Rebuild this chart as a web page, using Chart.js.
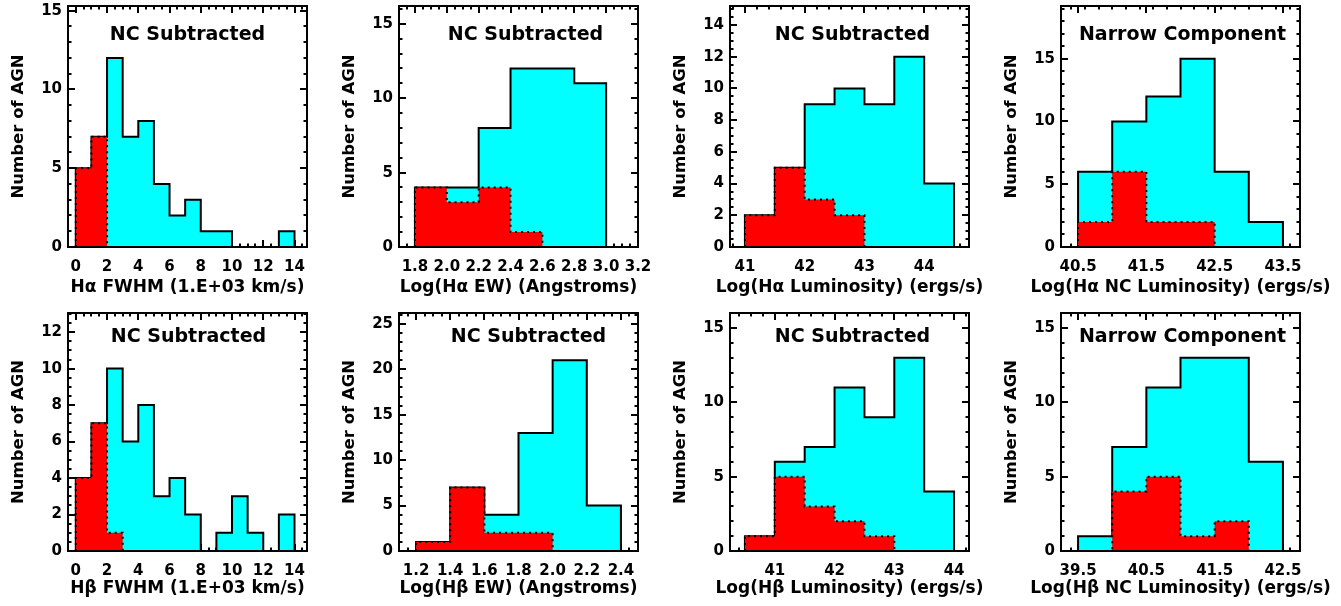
<!DOCTYPE html>
<html>
<head>
<meta charset="utf-8">
<script src="https://cdn.jsdelivr.net/npm/chart.js@4.4.1/dist/chart.umd.min.js"></script>
<style>
  html, body { margin: 0; padding: 0; background: #fff; overflow: hidden; }
  #wrap { position: relative; width: 1341px; height: 606px; }
  .panel { position: absolute; width: 348px; height: 307px; }
  .panel canvas { display: block; }
</style>
</head>
<body>
<div id="wrap"></div>
<script>
// histogram bins: edges, counts for all AGN (cyan) and the red subset
const haFwhmEdges = [0, 1, 2, 3, 4, 5, 6, 7, 8, 9, 10, 11, 12, 13, 14];
const haFwhmAll = [5, 7, 12, 7, 8, 4, 2, 3, 1, 1, 0, 0, 0, 1];
const haFwhmRed = [5, 7, 0, 0, 0, 0, 0, 0, 0, 0, 0, 0, 0, 0];

const haEwEdges = [1.8, 2.0, 2.2, 2.4, 2.6, 2.8, 3.0];
const haEwAll = [4, 4, 8, 12, 12, 11];
const haEwRed = [4, 3, 4, 1, 0, 0];

const haLumEdges = [41, 41.5, 42, 42.5, 43, 43.5, 44, 44.5];
const haLumAll = [2, 5, 9, 10, 9, 12, 4];
const haLumRed = [2, 5, 3, 2, 0, 0, 0];

const haNcEdges = [40.5, 41, 41.5, 42, 42.5, 43, 43.5];
const haNcAll = [6, 10, 12, 15, 6, 2];
const haNcRed = [2, 6, 2, 2, 0, 0];

const hbFwhmEdges = [0, 1, 2, 3, 4, 5, 6, 7, 8, 9, 10, 11, 12, 13, 14];
const hbFwhmAll = [4, 7, 10, 6, 8, 3, 4, 2, 0, 1, 3, 1, 0, 2];
const hbFwhmRed = [4, 7, 1, 0, 0, 0, 0, 0, 0, 0, 0, 0, 0, 0];

const hbEwEdges = [1.2, 1.4, 1.6, 1.8, 2.0, 2.2, 2.4];
const hbEwAll = [1, 7, 4, 13, 21, 5];
const hbEwRed = [1, 7, 2, 2, 0, 0];

const hbLumEdges = [40.5, 41, 41.5, 42, 42.5, 43, 43.5, 44];
const hbLumAll = [1, 6, 7, 11, 9, 13, 4];
const hbLumRed = [1, 5, 3, 2, 1, 0, 0];

const hbNcEdges = [39.5, 40, 40.5, 41, 41.5, 42, 42.5];
const hbNcAll = [1, 7, 11, 13, 13, 6];
const hbNcRed = [0, 4, 5, 1, 2, 0];

// tick labels
const fwhmXTicks = ['0', '2', '4', '6', '8', '10', '12', '14'];
const haEwXTicks = ['1.8', '2.0', '2.2', '2.4', '2.6', '2.8', '3.0', '3.2'];
const hbEwXTicks = ['1.2', '1.4', '1.6', '1.8', '2.0', '2.2', '2.4'];
const lumXTicks = ['41', '42', '43', '44'];
const haNcXTicks = ['40.5', '41.5', '42.5', '43.5'];
const hbNcXTicks = ['39.5', '40.5', '41.5', '42.5'];
const yTicks15 = ['0', '5', '10', '15'];
const yTicks25 = ['0', '5', '10', '15', '20', '25'];
const yTicks14 = ['0', '2', '4', '6', '8', '10', '12', '14'];
const yTicks12 = ['0', '2', '4', '6', '8', '10', '12'];

const panels = [
  { edges: haFwhmEdges, all: haFwhmAll, red: haFwhmRed, xTicks: fwhmXTicks, yTicks: yTicks15,
    xMin: -0.5, xMax: 14.8, yMax: 15.3, xMinor: 0.5, yMinor: 1,
    title: 'NC Subtracted', xTitle: 'H\u03b1 FWHM (1.E+03 km/s)', shift: 0 },
  { edges: haEwEdges, all: haEwAll, red: haEwRed, xTicks: haEwXTicks, yTicks: yTicks15,
    xMin: 1.7, xMax: 3.2, yMax: 16.2, xMinor: 0.05, yMinor: 1,
    title: 'NC Subtracted', xTitle: 'Log(H\u03b1 EW) (Angstroms)', shift: 7 },
  { edges: haLumEdges, all: haLumAll, red: haLumRed, xTicks: lumXTicks, yTicks: yTicks14,
    xMin: 40.75, xMax: 44.75, yMax: 15.2, xMinor: 0.2, yMinor: 0.5,
    title: 'NC Subtracted', xTitle: 'Log(H\u03b1 Luminosity) (ergs/s)', shift: 3 },
  { edges: haNcEdges, all: haNcAll, red: haNcRed, xTicks: haNcXTicks, yTicks: yTicks15,
    xMin: 40.25, xMax: 43.75, yMax: 19.2, xMinor: 0.2, yMinor: 1,
    title: 'Narrow Component', xTitle: 'Log(H\u03b1 NC Luminosity) (ergs/s)', shift: 2 },
  { edges: hbFwhmEdges, all: hbFwhmAll, red: hbFwhmRed, xTicks: fwhmXTicks, yTicks: yTicks12,
    xMin: -0.5, xMax: 14.8, yMax: 13.05, xMinor: 0.5, yMinor: 0.5,
    title: 'NC Subtracted', xTitle: 'H\u03b2 FWHM (1.E+03 km/s)', shift: 1 },
  { edges: hbEwEdges, all: hbEwAll, red: hbEwRed, xTicks: hbEwXTicks, yTicks: yTicks25,
    xMin: 1.1, xMax: 2.5, yMax: 26.2, xMinor: 0.05, yMinor: 1,
    title: 'NC Subtracted', xTitle: 'Log(H\u03b2 EW) (Angstroms)', shift: 10 },
  { edges: hbLumEdges, all: hbLumAll, red: hbLumRed, xTicks: lumXTicks, yTicks: yTicks15,
    xMin: 40.25, xMax: 44.25, yMax: 16, xMinor: 0.2, yMinor: 1,
    title: 'NC Subtracted', xTitle: 'Log(H\u03b2 Luminosity) (ergs/s)', shift: 3 },
  { edges: hbNcEdges, all: hbNcAll, red: hbNcRed, xTicks: hbNcXTicks, yTicks: yTicks15,
    xMin: 39.25, xMax: 42.75, yMax: 16, xMinor: 0.2, yMinor: 1,
    title: 'Narrow Component', xTitle: 'Log(H\u03b2 NC Luminosity) (ergs/s)', shift: 2 }
];

// per-row placement inside each 348x307 canvas
const rows = [
  { top: 0, boxBottom: 247, titleDy: 34, xTitleY: 288 },
  { top: 307, boxBottom: 244, titleDy: 28.5, xTitleY: 282 }
];
const CW = 348, CH = 307;

const FONT = '"DejaVu Sans", sans-serif';
Chart.defaults.color = '#000';
Chart.defaults.font.family = FONT;

// outline of a histogram as a closed step path
function stepPoints(edges, counts) {
  const pts = [{ x: edges[0], y: 0 }];
  counts.forEach((c, i) => {
    pts.push({ x: edges[i], y: c });
    pts.push({ x: edges[i + 1], y: c });
  });
  pts.push({ x: edges[edges.length - 1], y: 0 });
  return pts;
}

function minorValues(min, max, step, majors) {
  const out = [];
  const k0 = Math.ceil(min / step - 1e-6), k1 = Math.floor(max / step + 1e-6);
  for (let k = k0; k <= k1; k++) {
    const v = k * step;
    if (!majors.some(m => Math.abs(m - v) < step / 10)) out.push(v);
  }
  return out;
}

// IDL style frame: inward ticks on all four sides, box, titles
const idlFrame = {
  id: 'idlFrame',
  beforeDraw(chart, args, o) {
    const ctx = chart.ctx, a = chart.chartArea;
    const xs = chart.scales.x, ys = chart.scales.y;
    const xMaj = o.xTicks.map(Number), yMaj = o.yTicks.map(Number);
    const xMin = minorValues(xs.min, xs.max, o.xMinor, xMaj);
    const yMin = minorValues(ys.min, ys.max, o.yMinor, yMaj);
    ctx.save();
    ctx.strokeStyle = '#000';
    ctx.lineWidth = 2;
    ctx.beginPath();
    const tx = (vals, len) => vals.forEach(v => {
      const p = Math.round(xs.getPixelForValue(v));
      ctx.moveTo(p, a.bottom); ctx.lineTo(p, a.bottom - len);
      ctx.moveTo(p, a.top); ctx.lineTo(p, a.top + len);
    });
    const ty = (vals, len) => vals.forEach(v => {
      const p = Math.round(ys.getPixelForValue(v));
      ctx.moveTo(a.left, p); ctx.lineTo(a.left + len, p);
      ctx.moveTo(a.right, p); ctx.lineTo(a.right - len, p);
    });
    tx(xMaj, 7); tx(xMin, 3.5);
    ty(yMaj, 7); ty(yMin, 3.5);
    ctx.stroke();
    ctx.restore();
  },
  afterDraw(chart, args, o) {
    const ctx = chart.ctx, a = chart.chartArea;
    const cx = (a.left + a.right) / 2, cy = (a.top + a.bottom) / 2;
    ctx.save();
    ctx.strokeStyle = '#000';
    ctx.lineWidth = 2;
    ctx.strokeRect(a.left, a.top, a.right - a.left, a.bottom - a.top);
    ctx.fillStyle = '#000';
    ctx.textAlign = 'center';
    ctx.textBaseline = 'alphabetic';
    ctx.font = 'bold 19px ' + FONT;
    ctx.fillText(o.title, cx + o.shift, a.top + o.titleDy);
    ctx.textBaseline = 'middle';
    ctx.font = 'bold 17px ' + FONT;
    ctx.fillText(o.xTitle, cx, o.xTitleY);
    ctx.translate(19, cy);
    ctx.rotate(-Math.PI / 2);
    ctx.font = 'bold 16.5px ' + FONT;
    ctx.fillText('Number of AGN', 0, 0);
    ctx.restore();
  }
};

const wrap = document.getElementById('wrap');
panels.forEach((p, i) => {
  const row = rows[Math.floor(i / 4)];
  const col = i % 4;
  const div = document.createElement('div');
  div.className = 'panel';
  div.style.left = (col * 331) + 'px';
  div.style.top = row.top + 'px';
  const canvas = document.createElement('canvas');
  canvas.width = CW;
  canvas.height = CH;
  div.appendChild(canvas);
  wrap.appendChild(div);

  const tickFont = { family: FONT, size: 15, weight: 'bold' };
  // the red subset is dataset 0 so it is drawn last, over the cyan outline
  new Chart(canvas, {
    type: 'line',
    data: {
      datasets: [
        { data: stepPoints(p.edges, p.red), borderColor: '#000', borderWidth: 2, borderDash: [2, 4],
          backgroundColor: '#ff0000', fill: 'origin', pointRadius: 0, tension: 0 },
        { data: stepPoints(p.edges, p.all), borderColor: '#000', borderWidth: 2,
          backgroundColor: '#00ffff', fill: 'origin', pointRadius: 0, tension: 0 }
      ]
    },
    options: {
      responsive: false,
      animation: false,
      devicePixelRatio: 1,
      layout: { padding: { top: 6, right: CW - 307, left: 0, bottom: 0 } },
      plugins: {
        legend: { display: false },
        tooltip: { enabled: false },
        idlFrame: {
          title: p.title, xTitle: p.xTitle, shift: p.shift, titleDy: row.titleDy, xTitleY: row.xTitleY,
          xTicks: p.xTicks, yTicks: p.yTicks, xMinor: p.xMinor, yMinor: p.yMinor
        }
      },
      scales: {
        x: {
          type: 'linear', min: p.xMin, max: p.xMax,
          grid: { display: false, drawTicks: false }, border: { display: false },
          afterBuildTicks: s => { s.ticks = p.xTicks.map(t => ({ value: Number(t) })); },
          afterFit: s => { s.height = CH - row.boxBottom; s.paddingLeft = 0; s.paddingRight = 0; },
          ticks: { autoSkip: false, maxRotation: 0, padding: 11, font: tickFont, color: '#000',
                   callback: (v, k) => p.xTicks[k] }
        },
        y: {
          type: 'linear', min: 0, max: p.yMax,
          grid: { display: false, drawTicks: false }, border: { display: false },
          afterBuildTicks: s => { s.ticks = p.yTicks.map(t => ({ value: Number(t) })); },
          afterFit: s => { s.width = 68; s.paddingTop = 0; s.paddingBottom = 0; },
          ticks: { autoSkip: false, padding: 6, font: tickFont, color: '#000',
                   callback: (v, k) => p.yTicks[k] }
        }
      }
    },
    plugins: [idlFrame]
  });
});
</script>
</body>
</html>
